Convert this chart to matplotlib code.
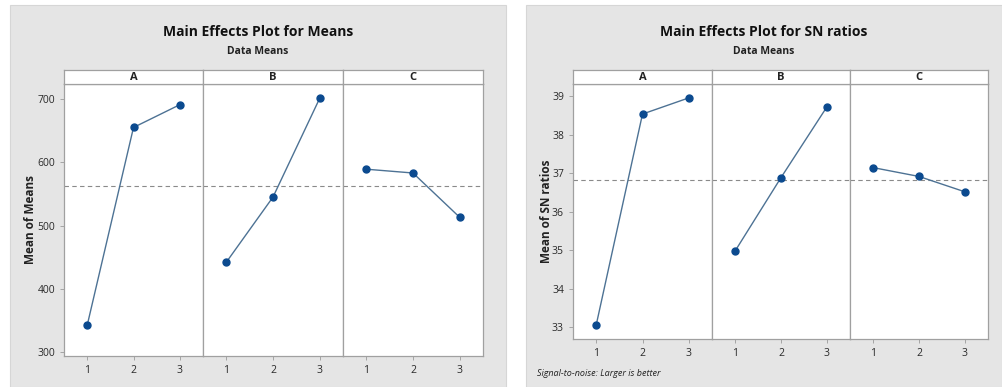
import matplotlib
matplotlib.use("Agg")
import matplotlib.pyplot as plt
from matplotlib.patches import Rectangle

plt.rcParams['font.family'] = ['Open Sans', 'DejaVu Sans']

factors = ["A", "B", "C"]
levels = [1, 2, 3]

# Main effects for means
means_A = [342, 655, 691]
means_B = [442, 545, 701]
means_C = [589, 583, 513]
means_grand = 563
means_ticks = [300, 400, 500, 600, 700]

# Main effects for SN ratios
sn_A = [33.06, 38.54, 38.96]
sn_B = [34.98, 36.89, 38.73]
sn_C = [37.15, 36.92, 36.52]
sn_grand = 36.84
sn_ticks = [33, 34, 35, 36, 37, 38, 39]

W, H = 1002, 387
fig = plt.figure(figsize=(W / 100, H / 100), dpi=100)
fig.patch.set_facecolor("white")

line_c = "#4d7294"
mark_c = "#0b4a8f"
edge_c = "#a0a0a0"
text_c = "#2a2a2a"


def box(x0, y0, x1, y1):
    # pixel box (top-left origin) -> figure fraction rect
    return [x0 / W, 1 - y1 / H, (x1 - x0) / W, (y1 - y0) / H]


def panel(gx0, gx1, xs, ytop, ybot, series, grand, ylim, ticks, title, ylabel, ylab_x, note=None):
    r = box(gx0, 5, gx1, H)
    fig.patches.append(Rectangle((r[0], r[1]), r[2], r[3], transform=fig.transFigure,
                                 facecolor="#e5e5e5", edgecolor="#d6d6d6", lw=0.8, zorder=-1))
    cx = (gx0 + gx1) / 2
    fig.text(cx / W, 1 - 32 / H, title, ha="center", va="center", fontsize=10,
             fontweight="bold", color="#111111")
    fig.text(cx / W, 1 - 51 / H, "Data Means", ha="center", va="center", fontsize=7.5,
             fontweight="bold", color="#222222")
    fig.text(ylab_x / W, 1 - ((ytop + ybot) / 2) / H, ylabel, rotation=90, ha="center",
             va="center", fontsize=8.5, fontweight="bold", color="#222222")
    for i, name in enumerate(factors):
        ax = fig.add_axes(box(xs[i], ytop, xs[i + 1], ybot))
        ax.axhline(grand, color="#8a8a8a", lw=0.8, ls=(0, (4, 3)), zorder=1)
        ax.plot(levels, series[i], color=line_c, lw=1.0, zorder=2)
        ax.plot(levels, series[i], "o", color=mark_c, ms=5, zorder=3)
        ax.set_xlim(0.5, 3.5)
        ax.set_ylim(*ylim)
        ax.set_xticks(levels)
        ax.set_yticks(ticks)
        ax.tick_params(colors="#9a9a9a", labelcolor=text_c, labelsize=7.5, length=3, width=0.6)
        if i > 0:
            ax.tick_params(axis="y", left=False, labelleft=False)
        for s in ax.spines.values():
            s.set_color(edge_c)
            s.set_linewidth(0.9)
        # strip header
        sx = fig.add_axes(box(xs[i], 70, xs[i + 1], ytop))
        sx.set_xticks([])
        sx.set_yticks([])
        for s in sx.spines.values():
            s.set_color(edge_c)
            s.set_linewidth(0.9)
        sx.text(0.5, 0.45, name, transform=sx.transAxes, ha="center", va="center",
                fontsize=8, fontweight="bold", color="#222222")
    if note:
        fig.text((gx0 + 11) / W, 1 - 374 / H, note, ha="left", va="center", fontsize=6.5,
                 style="italic", color="#222222")


panel(10, 506, [64, 203, 343, 483], 84, 356, [means_A, means_B, means_C], means_grand,
      (293.7, 723.7), means_ticks, "Main Effects Plot for Means", "Mean of Means", 31)

panel(526, 1002, [573, 712, 850, 988], 84, 339, [sn_A, sn_B, sn_C], sn_grand,
      (32.70, 39.32), sn_ticks, "Main Effects Plot for SN ratios", "Mean of SN ratios", 547,
      note="Signal-to-noise: Larger is better")

fig.savefig("out.png", dpi=100)
